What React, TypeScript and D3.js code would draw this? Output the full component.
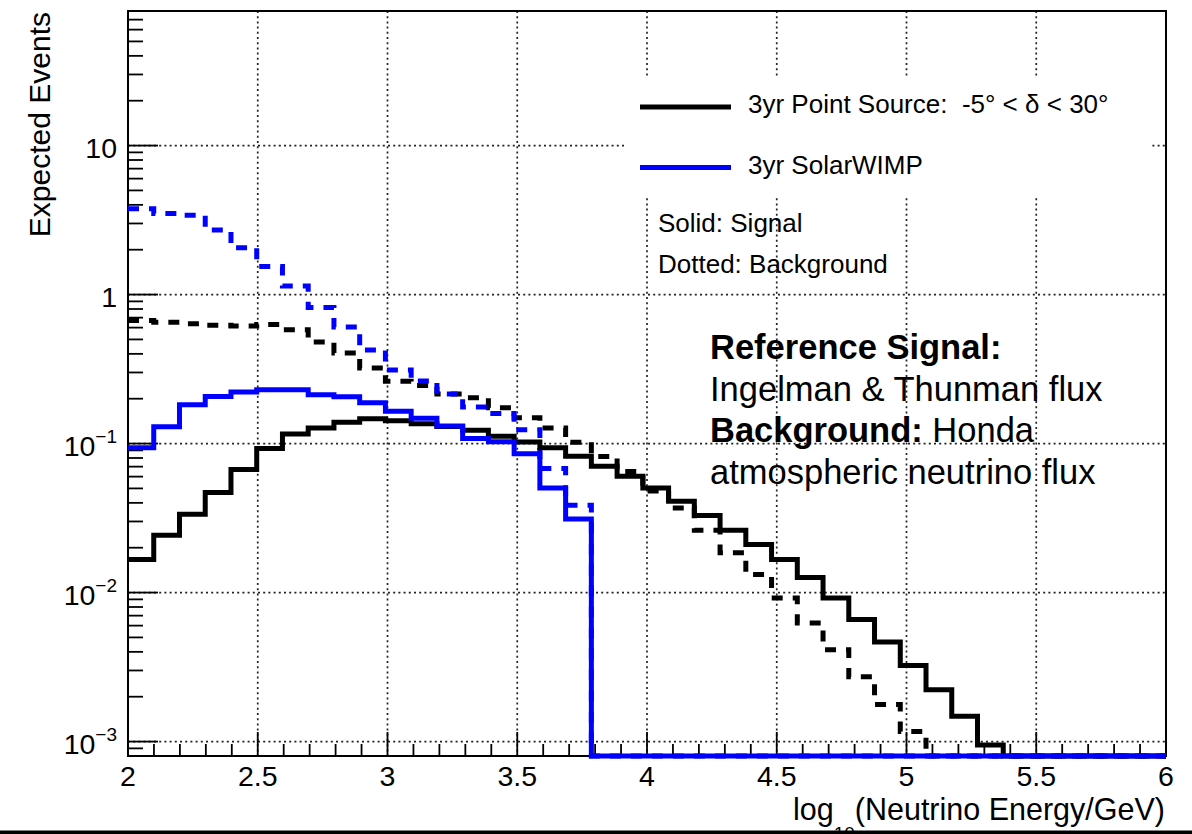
import React from 'react';
import * as d3 from 'd3';

// ---- data ----
const binLow = 2;
const binWidth = 0.0992;
const xDomain: [number, number] = [2, 6];
const yDomain: [number, number] = [0.0008, 80];

const psSignal = [0.0167, 0.0242, 0.0336, 0.0469, 0.067, 0.0926, 0.116, 0.127, 0.139, 0.1465,
  0.142, 0.136, 0.13, 0.123, 0.112, 0.1026, 0.0936, 0.0822, 0.0704, 0.0604,
  0.0504, 0.041, 0.0329, 0.0262, 0.021, 0.0167, 0.0126, 0.0092, 0.0066, 0.00465,
  0.00324, 0.00223, 0.00148, 0.00095, 0, 0, 0, 0, 0, 0];
const psBackground = [0.669, 0.652, 0.638, 0.622, 0.616, 0.63, 0.58, 0.481, 0.406, 0.322,
  0.262, 0.245, 0.215, 0.203, 0.174, 0.149, 0.127, 0.102, 0.082, 0.065,
  0.048, 0.037, 0.0262, 0.0185, 0.0132, 0.0092, 0.00625, 0.00414, 0.00272, 0.00177,
  0.00117, 0, 0, 0, 0, 0, 0, 0, 0, 0];
const wimpSignal = [0.0936, 0.1295, 0.182, 0.207, 0.222, 0.23, 0.23, 0.213, 0.206, 0.188,
  0.165, 0.148, 0.131, 0.108, 0.103, 0.0855, 0.0504, 0.0312, 0, 0,
  0, 0, 0, 0, 0, 0, 0, 0, 0, 0,
  0, 0, 0, 0, 0, 0, 0, 0, 0, 0];
const wimpBackground = [3.76, 3.5, 3.41, 2.71, 2.06, 1.54, 1.14, 0.82, 0.605, 0.425,
  0.312, 0.263, 0.215, 0.176, 0.159, 0.124, 0.068, 0.0385, 0, 0,
  0, 0, 0, 0, 0, 0, 0, 0, 0, 0,
  0, 0, 0, 0, 0, 0, 0, 0, 0, 0];

const xTicks = [2, 2.5, 3, 3.5, 4, 4.5, 5, 5.5, 6];
const xTickLabels = ['2', '2.5', '3', '3.5', '4', '4.5', '5', '5.5', '6'];
const yTicks = [10, 1, 0.1, 0.01, 0.001];
const yTickBase = ['10', '1', '10', '10', '10'];
const yTickExp = ['', '', '−1', '−2', '−3'];

const legendLabels = ['3yr Point Source:  -5° < δ < 30°', '3yr SolarWIMP'];
const legendColors = ['#000000', '#0000ff'];
const noteLines = ['Solid: Signal', 'Dotted: Background'];

const FONT = '"Liberation Sans", Arial, Helvetica, sans-serif';

export default function App() {
  const W = 1192, H = 834;
  const left = 128, right = 1166, top = 11, bottom = 756;
  const x = d3.scaleLinear().domain(xDomain).range([left, right]);
  const y = d3.scaleLog().domain(yDomain).range([bottom, top]);

  const stepPath = (vals: number[]) => {
    const pts: [number, number][] = [];
    vals.forEach((v, i) => {
      const x0 = binLow + i * binWidth;
      const x1 = x0 + binWidth;
      const vv = v > 0 ? v : yDomain[0];
      pts.push([x0, vv], [x1, vv]);
    });
    pts.push([xDomain[1], pts[pts.length - 1][1]]);
    return d3.line<[number, number]>().x(d => x(d[0])).y(d => y(d[1]))(pts) || '';
  };

  const yMinor: number[] = [];
  for (let k = -4; k <= 1; k++) {
    for (let m = 2; m <= 9; m++) {
      const v = m * Math.pow(10, k);
      if (v > yDomain[0] && v < yDomain[1]) yMinor.push(v);
    }
  }
  const xMinor = d3.range(20, 61).filter(i => i % 5 !== 0).map(i => i / 10);
  const gridX = xTicks.filter(t => t > xDomain[0] && t < xDomain[1]);

  return (
    <svg width={W} height={H} style={{ position: 'absolute', left: 0, top: 0, background: '#fff' }}
      fontFamily={FONT}>
      <defs>
        <clipPath id="frameClip">
          <rect x={left - 2} y={top} width={right - left + 4} height={bottom - top + 4} />
        </clipPath>
      </defs>
      <rect x={0} y={0} width={W} height={H} fill="#fff" />

      {/* grid */}
      <g stroke="#222" strokeWidth={1.7} strokeDasharray="2 3.2">
        {gridX.map((t, i) => (
          <line key={'gx' + i} x1={x(t)} x2={x(t)} y1={top} y2={bottom} />
        ))}
        {yTicks.map((t, i) => (
          <line key={'gy' + i} x1={left} x2={right} y1={y(t)} y2={y(t)} />
        ))}
      </g>

      {/* legend box */}
      <rect x={625} y={76} width={525} height={120} fill="#fff" />

      {/* frame & ticks */}
      <rect x={left} y={top} width={right - left} height={bottom - top} fill="none" stroke="#000" strokeWidth={2} />
      <g stroke="#000" strokeWidth={1.8}>
        {yTicks.map((t, i) => (
          <line key={'yt' + i} x1={left} x2={left + 30} y1={y(t)} y2={y(t)} />
        ))}
        {yMinor.map((t, i) => (
          <line key={'ym' + i} x1={left} x2={left + 15} y1={y(t)} y2={y(t)} />
        ))}
        {xTicks.map((t, i) => (
          <line key={'xt' + i} x1={x(t)} x2={x(t)} y1={bottom} y2={bottom - 24} />
        ))}
        {xMinor.map((t, i) => (
          <line key={'xm' + i} x1={x(t)} x2={x(t)} y1={bottom} y2={bottom - 12} />
        ))}
      </g>

      {/* histograms */}
      <g clipPath="url(#frameClip)" fill="none" strokeLinejoin="miter" strokeLinecap="butt">
        <path d={stepPath(psBackground)} stroke="#000" strokeWidth={5} strokeDasharray="11 10" />
        <path d={stepPath(wimpBackground)} stroke="#0000ff" strokeWidth={5} strokeDasharray="11 10" />
        <path d={stepPath(psSignal)} stroke="#000" strokeWidth={5} />
        <path d={stepPath(wimpSignal)} stroke="#0000ff" strokeWidth={5} />
      </g>

      {/* axis labels */}
      <g fontSize={28.5} fill="#000">
        {xTicks.map((t, i) => (
          <text key={'xl' + i} x={x(t)} y={bottom + 30} textAnchor="middle">{xTickLabels[i]}</text>
        ))}
        {yTicks.map((t, i) => (
          <text key={'yl' + i} x={117} y={y(t) + 12} textAnchor="end">
            <tspan>{yTickBase[i]}</tspan>
            {yTickExp[i] && <tspan fontSize={19} dy={-13}>{yTickExp[i]}</tspan>}
          </text>
        ))}
      </g>

      {/* axis titles */}
      <text x={1165} y={820} textAnchor="end" fontSize={30.5}>
        <tspan>log</tspan>
        <tspan fontSize={19} dy={20}>10</tspan>
        <tspan dy={-20}>(Neutrino Energy/GeV)</tspan>
      </text>
      <text transform="translate(50,12) rotate(-90)" textAnchor="end" fontSize={30}>Expected Events</text>

      {/* legend */}
      {legendLabels.map((lab, i) => (
        <g key={'lg' + i}>
          <line x1={640} x2={731} y1={107 + i * 60.5} y2={107 + i * 60.5} stroke={legendColors[i]} strokeWidth={5} />
          <text x={748} y={113 + i * 61} fontSize={26} style={{ whiteSpace: 'pre' }}>{lab}</text>
        </g>
      ))}
      {noteLines.map((t, i) => (
        <text key={'nt' + i} x={658} y={232 + i * 40.5} fontSize={26}>{t}</text>
      ))}

      {/* reference text block */}
      <g fontSize={34.5}>
        <text x={710} y={359} fontWeight="bold">Reference Signal:</text>
        <text x={710} y={401}>Ingelman &amp; Thunman flux</text>
        <text x={710} y={442}>
          <tspan fontWeight="bold">Background:</tspan>
          <tspan> Honda</tspan>
        </text>
        <text x={710} y={484}>atmospheric neutrino flux</text>
      </g>

      {/* bottom border */}
      <rect x={0} y={830.5} width={W} height={4} fill="#000" />
    </svg>
  );
}
